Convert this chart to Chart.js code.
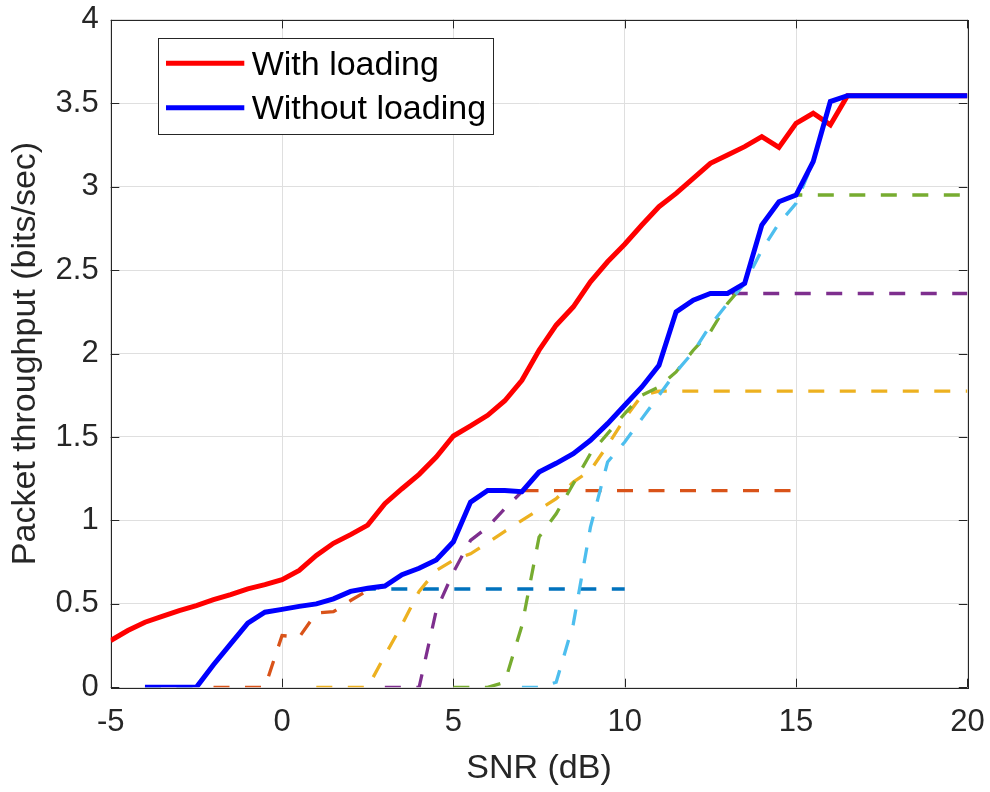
<!DOCTYPE html>
<html>
<head>
<meta charset="utf-8">
<script src="https://cdn.jsdelivr.net/npm/chart.js@4.4.1/dist/chart.umd.min.js"></script>
<style>
  html, body { margin: 0; padding: 0; background: #ffffff; }
  #wrap { width: 990px; height: 792px; position: relative; }
</style>
</head>
<body>
<div id="wrap"><canvas id="chart" width="990" height="792"></canvas></div>
<script>
// SNR grid (dB), 0.5 dB steps
const snrDb = [-5, -4.5, -4, -3.5, -3, -2.5, -2, -1.5, -1, -0.5,
  0, 0.5, 1, 1.5, 2, 2.5, 3, 3.5, 4, 4.5,
  5, 5.5, 6, 6.5, 7, 7.5, 8, 8.5, 9, 9.5,
  10, 10.5, 11, 11.5, 12, 12.5, 13, 13.5, 14, 14.5,
  15, 15.5, 16, 16.5, 17, 17.5, 18, 18.5, 19, 19.5, 20];

// Adaptive bit loading (starts at -5 dB)
const withLoadingFrom = -5;
const withLoading = [0.28, 0.34, 0.39, 0.425, 0.46, 0.49, 0.525, 0.555, 0.59, 0.615,
  0.645, 0.70, 0.79, 0.863, 0.915, 0.972, 1.10, 1.19, 1.276, 1.38,
  1.506, 1.566, 1.63, 1.717, 1.84, 2.02, 2.17, 2.28, 2.43, 2.55,
  2.655, 2.77, 2.88, 2.96, 3.05, 3.14, 3.19, 3.24, 3.30, 3.235,
  3.38, 3.44, 3.37, 3.545, 3.545, 3.545, 3.545, 3.545, 3.545, 3.545, 3.545];

// Best fixed rate without loading (starts at -4 dB)
const withoutLoadingFrom = -4;
const withoutLoading = [0, 0, 0, 0, 0.135, 0.26, 0.385, 0.45,
  0.467, 0.485, 0.50, 0.53, 0.575, 0.593, 0.607, 0.675, 0.713, 0.763,
  0.872, 1.11, 1.18, 1.18, 1.172, 1.29, 1.342, 1.40, 1.48, 1.58,
  1.69, 1.80, 1.93, 2.25, 2.32, 2.36, 2.36, 2.42, 2.77, 2.91,
  2.95, 3.15, 3.51, 3.545, 3.545, 3.545, 3.545, 3.545, 3.545, 3.545, 3.545];

// Individual fixed-rate curves
const rate1From = -4;
const rate1 = [0, 0, 0, 0, 0.135, 0.26, 0.385, 0.45,
  0.467, 0.485, 0.50, 0.53, 0.575, 0.589, 0.589, 0.589, 0.589, 0.589,
  0.589, 0.589, 0.589, 0.589, 0.589, 0.589, 0.589, 0.589, 0.589, 0.589, 0.589];

const rate2From = -2;
const rate2 = [0, 0, 0, 0, 0.31, 0.30, 0.445, 0.453, 0.52, 0.58,
  0.607, 0.675, 0.713, 0.763, 0.872, 1.11, 1.178, 1.178, 1.178, 1.178,
  1.178, 1.178, 1.178, 1.178, 1.178, 1.178, 1.178, 1.178, 1.178, 1.178,
  1.178, 1.178, 1.178, 1.178, 1.178];

const rate3From = 1;
const rate3 = [0, 0, 0, 0, 0.19, 0.375, 0.575, 0.70, 0.762, 0.80,
  0.865, 0.935, 1.0, 1.065, 1.13, 1.23, 1.30, 1.45, 1.61, 1.75,
  1.775, 1.775, 1.775, 1.775, 1.775, 1.775, 1.775, 1.775, 1.775, 1.775,
  1.775, 1.775, 1.775, 1.775, 1.775, 1.775, 1.775, 1.775, 1.775];

const rate4From = 3;
const rate4 = [0, 0, 0, 0.46, 0.69, 0.88, 0.96, 1.07, 1.172, 1.29,
  1.342, 1.40, 1.48, 1.58, 1.69, 1.80, 1.93, 2.25, 2.32, 2.36,
  2.36, 2.36, 2.36, 2.36, 2.36, 2.36, 2.36, 2.36, 2.36, 2.36,
  2.36, 2.36, 2.36, 2.36, 2.36];

const rate5From = 5;
const rate5 = [0, 0, 0, 0.03, 0.37, 0.90, 1.04, 1.22, 1.40, 1.52,
  1.64, 1.75, 1.80, 1.89, 2.02, 2.13, 2.30, 2.42, 2.77, 2.91,
  2.95, 2.95, 2.95, 2.95, 2.95, 2.95, 2.95, 2.95, 2.95, 2.95, 2.95];

const rate6From = 7;
const rate6 = [0, 0, 0.03, 0.38, 0.96, 1.35, 1.47, 1.61, 1.75, 1.89,
  2.01, 2.17, 2.30, 2.42, 2.62, 2.78, 2.90, 3.15, 3.51, 3.545,
  3.545, 3.545, 3.545, 3.545, 3.545, 3.545, 3.545];

// Axis ticks
const xTicks = [-5, 0, 5, 10, 15, 20];
const yTicks = [0, 0.5, 1, 1.5, 2, 2.5, 3, 3.5, 4];

const FONT = '"Liberation Sans", Arial, Helvetica, sans-serif';
const AXIS_COLOR = '#262626';

function toPoints(from, values) {
  const start = snrDb.indexOf(from);
  return values.map((v, i) => ({ x: snrDb[start + i], y: v }));
}

function solid(label, from, values, color, order) {
  return {
    label, data: toPoints(from, values), borderColor: color, backgroundColor: color,
    borderWidth: 5, pointRadius: 0, fill: false, tension: 0, order,
    showInLegend: true
  };
}
function dashed(label, from, values, color, order) {
  return {
    label, data: toPoints(from, values), borderColor: color, backgroundColor: color,
    borderWidth: 3.3, borderDash: [16, 15.5], pointRadius: 0, fill: false, tension: 0, order,
    showInLegend: false
  };
}

const datasets = [
  solid('With loading', withLoadingFrom, withLoading, '#ff0000', 1),
  solid('Without loading', withoutLoadingFrom, withoutLoading, '#0000ff', 0),
  dashed('Rate 1', rate1From, rate1, '#0072BD', 7),
  dashed('Rate 2', rate2From, rate2, '#D95319', 6),
  dashed('Rate 3', rate3From, rate3, '#EDB120', 5),
  dashed('Rate 4', rate4From, rate4, '#7E2F8E', 4),
  dashed('Rate 5', rate5From, rate5, '#77AC30', 3),
  dashed('Rate 6', rate6From, rate6, '#4DBEEE', 2)
];

// Axes box with inward tick marks on all four sides
const boxPlugin = {
  id: 'axesBox',
  beforeDatasetsDraw(chart) {
    const { ctx, chartArea: a, scales: { x, y } } = chart;
    const len = 8.6;
    ctx.save();
    ctx.strokeStyle = AXIS_COLOR;
    ctx.lineWidth = 1;
    ctx.beginPath();
    xTicks.forEach(v => {
      const px = Math.round(x.getPixelForValue(v)) + 0.5;
      ctx.moveTo(px, a.bottom); ctx.lineTo(px, a.bottom - len);
      ctx.moveTo(px, a.top); ctx.lineTo(px, a.top + len);
    });
    yTicks.forEach(v => {
      const py = Math.round(y.getPixelForValue(v)) + 0.5;
      ctx.moveTo(a.left, py); ctx.lineTo(a.left + len, py);
      ctx.moveTo(a.right, py); ctx.lineTo(a.right - len, py);
    });
    ctx.stroke();
    ctx.strokeRect(Math.round(a.left) + 0.5, Math.round(a.top) + 0.5,
      Math.round(a.right - a.left), Math.round(a.bottom - a.top));
    ctx.restore();
  }
};

// Boxed legend inside the plot, upper left
const legendPlugin = {
  id: 'boxLegend',
  afterDatasetsDraw(chart) {
    const { ctx, chartArea: a } = chart;
    const items = chart.data.datasets.filter(d => d.showInLegend);
    const bx = a.left + 47, by = a.top + 18.5, bw = 334.6, bh = 95.7;
    const rowH = 44.4;
    ctx.save();
    ctx.fillStyle = '#ffffff';
    ctx.fillRect(bx, by, bw, bh);
    ctx.strokeStyle = AXIS_COLOR;
    ctx.lineWidth = 1;
    ctx.strokeRect(Math.round(bx) + 0.5, Math.round(by) + 0.5, Math.round(bw), Math.round(bh));
    ctx.font = '34px ' + FONT;
    ctx.textBaseline = 'middle';
    ctx.textAlign = 'left';
    items.forEach((d, i) => {
      const cy = by + 25 + i * rowH;
      ctx.strokeStyle = d.borderColor;
      ctx.lineWidth = d.borderWidth;
      ctx.beginPath();
      ctx.moveTo(bx + 8.3, cy);
      ctx.lineTo(bx + 86.6, cy);
      ctx.stroke();
      ctx.fillStyle = '#000000';
      ctx.fillText(d.label, bx + 94, cy + 2.3);
    });
    ctx.restore();
  }
};

new Chart(document.getElementById('chart'), {
  type: 'line',
  data: { datasets },
  plugins: [boxPlugin, legendPlugin],
  options: {
    responsive: false,
    animation: false,
    devicePixelRatio: 1,
    events: [],
    layout: { padding: { left: 0, top: 19.8, right: 22.6, bottom: 0 } },
    plugins: { legend: { display: false }, tooltip: { enabled: false } },
    scales: {
      x: {
        type: 'linear', min: -5, max: 20,
        afterBuildTicks: s => { s.ticks = xTicks.map(v => ({ value: v })); },
        afterFit: s => { s.height = 104.7; s.paddingLeft = 0; s.paddingRight = 0; },
        grid: { color: '#dfdfdf', lineWidth: 1, drawTicks: false },
        border: { display: false },
        ticks: {
          padding: 17, color: AXIS_COLOR, maxRotation: 0,
          font: { family: FONT, size: 31 },
          callback: v => String(v)
        },
        title: {
          display: true, text: 'SNR (dB)', color: AXIS_COLOR,
          font: { family: FONT, size: 34 }, padding: { top: 0, bottom: 3.4 }
        }
      },
      y: {
        type: 'linear', min: 0, max: 4,
        afterBuildTicks: s => { s.ticks = yTicks.map(v => ({ value: v })); },
        afterFit: s => { s.width = 110.7; s.paddingTop = 0; s.paddingBottom = 0; },
        grid: { color: '#dfdfdf', lineWidth: 1, drawTicks: false },
        border: { display: false },
        ticks: {
          padding: 12, color: AXIS_COLOR,
          font: { family: FONT, size: 31 },
          callback: v => String(v)
        },
        title: {
          display: true, text: 'Packet throughput (bits/sec)', color: AXIS_COLOR,
          font: { family: FONT, size: 34 }, padding: { top: 4.8, bottom: 0 }
        }
      }
    }
  }
});
</script>
</body>
</html>
